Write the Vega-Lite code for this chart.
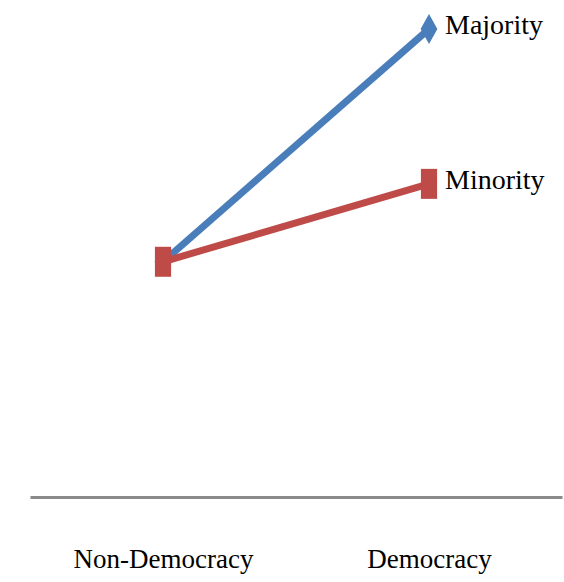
{
  "$schema": "https://vega.github.io/schema/vega-lite/v6.json",
  "width": 532,
  "height": 487,
  "autosize": "none",
  "padding": {"left": 30, "top": 10, "right": 2, "bottom": 85},
  "background": "white",
  "config": {"view": {"stroke": null}, "font": "Liberation Serif"},
  "data": {
    "values": [
      {"regime": "Non-Democracy", "group": "Majority", "value": 48.3},
      {"regime": "Democracy", "group": "Majority", "value": 96.1},
      {"regime": "Non-Democracy", "group": "Minority", "value": 48.3},
      {"regime": "Democracy", "group": "Minority", "value": 64.3}
    ]
  },
  "encoding": {
    "x": {
      "field": "regime",
      "type": "nominal",
      "sort": ["Non-Democracy", "Democracy"],
      "scale": {"type": "point", "padding": 0.5},
      "axis": {
        "title": null,
        "labelAngle": 0,
        "labelFont": "Liberation Serif",
        "labelFontSize": 27,
        "labelColor": "black",
        "labelPadding": 49,
        "labelLimit": 0,
        "ticks": false,
        "domainColor": "#8a8a8a",
        "domainWidth": 3,
        "grid": false
      }
    },
    "y": {
      "field": "value",
      "type": "quantitative",
      "scale": {"domain": [0, 100]},
      "axis": null
    }
  },
  "layer": [
    {
      "mark": {"type": "line", "strokeWidth": 7},
      "encoding": {
        "color": {
          "field": "group",
          "type": "nominal",
          "scale": {"domain": ["Majority", "Minority"], "range": ["#4A7EBB", "#BE4B48"]},
          "legend": null
        }
      }
    },
    {
      "mark": {"type": "point", "filled": true, "opacity": 1, "size": 900},
      "encoding": {
        "color": {"field": "group", "type": "nominal", "legend": null},
        "shape": {
          "field": "group",
          "type": "nominal",
          "scale": {
            "domain": ["Majority", "Minority"],
            "range": ["M0,-1L0.56,0L0,1L-0.56,0Z", "M-0.54,-1L0.54,-1L0.54,1L-0.54,1Z"]
          },
          "legend": null
        }
      }
    },
    {
      "transform": [{"filter": "datum.regime === 'Democracy'"}],
      "mark": {
        "type": "text",
        "align": "left",
        "baseline": "middle",
        "dx": 16,
        "dy": -3,
        "font": "Liberation Serif",
        "fontSize": 28,
        "color": "black"
      },
      "encoding": {"text": {"field": "group"}}
    }
  ]
}
